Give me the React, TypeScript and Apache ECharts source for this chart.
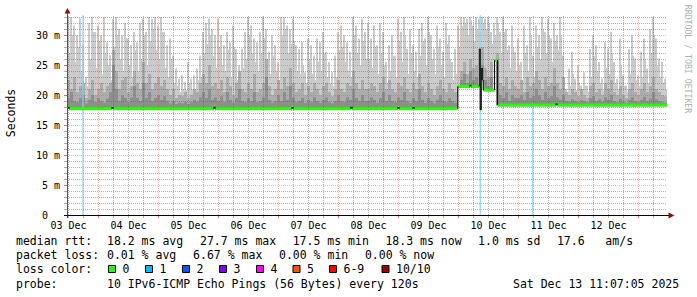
import React, { useEffect, useRef } from 'react';
import * as echarts from 'echarts';

// ---------- data ----------
const START_H = 11.4; // hours since 03 Dec 00:00 at left edge
const SPAN_H = 240; // 10 days
const BUCKET_H = 1.2; // smoke bucket width in hours
const Y_MAX = 100 / 3; // ms

const dayLabels = ['03 Dec', '04 Dec', '05 Dec', '06 Dec', '07 Dec', '08 Dec', '09 Dec', '10 Dec', '11 Dec', '12 Dec'];

// smoke: top of light-gray band (ms), one value per 1.2 h bucket
const smokeMax = [
  33, 33, 31.6, 30, 32.8, 28.3, 23, 32, 33, 30.5, 31.6, 30, 33, 28.8, 26.6, 32.7, 33, 31, 30, 32,
  29.4, 28.3, 30.5, 28.8, 32, 32.7, 30.5, 33, 32.7, 33, 31.6, 33, 30.5, 28.3, 29.4, 26.6, 24.4, 22.7, 23.3, 22.2,
  25.5, 22.7, 23.3, 24.4, 26.6, 30.5, 32, 32.7, 31, 30,
  32.7, 30, 28.3, 30.5, 28.8, 31.6, 27.7, 25, 27.7, 30.5, 33, 31.6, 29.4, 28.8, 30.5, 33, 31, 27.2, 30, 28.3,
  25.5, 33, 33, 31.6, 31, 32.7, 28.3, 27.7, 28.8, 23.8, 29.4, 28.3, 26.6, 29.4, 28.8, 30.5, 27.2, 25.5, 23.8, 26.6,
  30.5, 31.6, 30, 28.8, 27.2, 33, 31.6, 29.4, 32.7, 30.5,
  32, 29.4, 31.6, 28.3, 32, 30.5, 25.5, 28.3, 30, 26.6, 32.7, 30.5, 33, 27.7, 31, 28.3, 27.2, 31, 32, 29.4,
  33, 30, 27.7, 31.6, 29.4, 27.2, 32, 30, 25.5, 27.7, 31.6, 33, 33, 32.7, 33, 31.6, 33, 32.7, 33, 32.7,
  33, 30.5, 32, 33, 30.5, 33, 31, 28.3, 31.6, 27.2,
  29.4, 25.5, 31.6, 28.3, 33, 26.6, 31.6, 30, 33, 30.5, 32.7, 29.4, 32, 30, 33, 26.6, 21, 24.4, 27.2, 22.7,
  25, 21.6, 23.8, 21.6, 27.7, 30, 28.3, 25.5, 22.7, 28.8, 27.7, 30.5, 25.5, 22.7, 29.4, 23.3, 21.6, 27.7, 30, 26.1,
  23.3, 27.2, 29.4, 24.4, 31, 33, 29.4, 26.1, 25.5, 22.7,
];
// smoke: light-gray top of the narrow neighbouring spike in each bucket (ms)
const smokeAlt = [
  27, 30, 25.5, 28, 24, 22, 21.5, 26, 30.5, 24.5, 29, 23.5, 27, 25, 22.5, 28, 30, 26, 24, 29.5,
  25, 23, 27.5, 24, 26, 30, 25, 29, 31, 27.5, 26, 30.5, 24.5, 23, 26, 22, 21.5, 20.5, 21, 20.8,
  22, 21, 20.5, 22.5, 23, 27, 28.5, 30, 26.5, 24.5,
  28, 25, 24, 27.5, 23, 28, 22.5, 23, 24.5, 26, 30, 27, 25.5, 24, 27, 29.5, 26, 23.5, 26.5, 24,
  22.5, 30, 31, 27, 28.5, 29, 24, 23.5, 25, 22, 26, 23.5, 22.5, 25.5, 24, 27, 23, 22, 21.5, 23,
  27.5, 28, 25.5, 24, 23, 30, 27, 25, 29, 26,
  26, 24.5, 28, 23.5, 27, 25, 22, 24, 26.5, 23, 29, 25.5, 30, 23.5, 27, 24, 23, 26.5, 29, 25,
  30.5, 26, 23.5, 28, 25, 23, 28.5, 26, 22.5, 23.5, 28, 31.5, 32, 30, 32.5, 29, 31, 30.5, 32, 31,
  32, 28.5, 30, 32, 27, 30.5, 27.5, 24.5, 28, 24,
  25, 22.5, 27, 24, 30, 23, 28, 26, 31, 27, 30, 25.5, 29, 27.5, 30, 23, 20.5, 21.5, 23.5, 20.8,
  22, 20.6, 21.5, 20.5, 23, 26.5, 24, 22, 20.8, 24.5, 23.5, 27, 22, 21, 25, 21.5, 20.6, 23.5, 26.5, 22.5,
  21.5, 23, 26, 22, 27, 30, 25, 23, 22, 21,
];
// smoke: top of mid-gray band (ms)
const smokeMid = [
  22.5, 21, 23, 20.5, 21.5, 22, 19.5, 21, 22.5, 20, 21, 22, 20.5, 21.5, 22, 27.5, 24, 21, 22.5, 23,
  20.5, 21.5, 24, 22, 21, 25.5, 22, 23.5, 21, 22, 23, 21.5, 22.5, 21, 20, 21, 19.5, 20, 19.8, 20.5,
  19.5, 20, 21, 20.5, 22, 23.5, 22, 25, 21.5, 22,
  21, 22.5, 20.5, 23, 21.5, 20, 22, 24, 21, 20.5, 22, 21, 23.5, 20.5, 21, 22, 26, 21.5, 20, 21,
  22.5, 21, 23, 21.5, 24.5, 22, 20.5, 21, 22, 20, 21.5, 20.5, 22, 21, 20, 21.5, 22, 20.5, 19.8, 21,
  22.5, 21, 20.5, 22, 21.5, 24, 22, 21, 22.5, 21,
  21, 22, 21.5, 20.5, 22, 23, 21, 22.5, 21, 20.5, 22, 21.5, 23, 21, 20.5, 22, 21, 23.5, 21.5, 20.5,
  22, 21, 20, 21.5, 22.5, 21, 20.5, 22, 21, 20.5, 21.5, 24, 25.5, 23.5, 26, 24.5, 25, 23.5, 28, 24.5,
  23, 25.5, 24, 27, 22, 21.5, 23, 21, 22.5, 21.5,
  21, 22.5, 20.5, 23, 21.5, 22, 24, 22.5, 21, 23, 21.5, 22, 24.5, 22, 21, 23, 20.5, 20, 21, 20.5,
  19.8, 21, 20, 19.5, 21.5, 22, 20.5, 21, 20, 22, 21, 22.5, 20.5, 20, 21.5, 20, 19.5, 21, 22, 20.5,
  20, 21, 22, 20.5, 21.5, 23, 21, 20.5, 20, 19.8,
];
// smoke: top of dark-gray band (ms)
const smokeLow = [
  19.5, 20.5, 19, 18.8, 19.5, 20, 18.6, 19.2, 20, 18.8, 19.5, 19, 18.7, 19.4, 20.5, 25, 21, 19, 20, 19.5,
  18.8, 19.6, 21.5, 19.5, 19, 22, 19.5, 20.5, 19, 19.5, 20, 19.2, 19.8, 19, 18.6, 19, 18.5, 18.7, 18.6, 18.9,
  18.5, 18.8, 19.2, 18.9, 19.6, 20.5, 19.5, 21, 19.2, 19.6,
  19, 19.8, 18.8, 20.5, 19.2, 18.7, 19.5, 21, 19, 18.8, 19.5, 19, 20.5, 18.8, 19, 19.6, 23, 19.2, 18.7, 19,
  20, 19, 20.5, 19.2, 21.5, 19.6, 18.8, 19, 19.5, 18.7, 19.2, 18.8, 19.6, 19, 18.7, 19.2, 19.6, 18.8, 18.6, 19,
  20, 19, 18.8, 19.6, 19.2, 21, 19.5, 19, 20, 19,
  19, 19.6, 19.2, 18.7, 19.5, 20.5, 19, 20, 19, 18.8, 19.6, 19.2, 20.5, 19, 18.7, 19.5, 19, 21, 19.2, 18.7,
  19.5, 19, 18.6, 19.2, 20, 19, 18.8, 19.5, 19, 18.7, 19.2, 22.5, 23.5, 22, 24, 22.5, 23, 22, 25, 22.5,
  21.5, 23, 22, 26, 20, 19.5, 20.5, 19, 20, 19.5,
  19.5, 20, 19.2, 20.5, 19.5, 19.8, 21, 20, 19.2, 20.5, 19.5, 19.8, 21.5, 19.6, 19.2, 20, 19, 18.9, 19.3, 19,
  18.8, 19.2, 19, 18.8, 19.5, 19.8, 19, 19.3, 18.9, 19.6, 19.2, 20, 19, 18.8, 19.4, 18.9, 18.7, 19.2, 19.6, 19,
  18.8, 19.2, 19.7, 19, 19.4, 20.5, 19.3, 19, 18.8, 18.7,
];

// median rtt (step function): change times (hours) and values (ms)
const medianTimes = [
  11.4, 11.8, 12.2, 29.4, 29.8, 70.2, 70.6, 101.4, 101.8, 125.0, 125.4, 143.8, 144.2, 149.8, 150.2,
  167.7, 172.6, 173.0, 176.3, 176.7, 177.1, 177.5, 177.9, 182.4, 183.6, 207.0, 207.4, 251.4,
];
const medianValues = [
  17.7, 18.05, 17.7, 18.0, 17.7, 18.05, 17.7, 18.0, 17.7, 18.05, 17.7, 18.0, 17.7, 18.0, 17.7,
  21.4, 21.7, 21.4, 27.7, 17.5, 24.5, 22.5, 20.8, 25.8, 18.3, 18.6, 18.3, 18.3,
];

// packet-loss background markers: time (hours) and visible top (ms)
const lossTimes = [17.8, 176.7, 197.7];
const lossTops = [33.3, 33.3, 18.6];

// legend texts
const rttStats = ['median rtt:', '18.2 ms avg', '27.7 ms max', '17.5 ms min', '18.3 ms now', '1.0 ms sd', '17.6   am/s'];
const lossStats = ['packet loss:', '0.01 % avg', '6.67 % max', '0.00 % min', '0.00 % now'];
const lossLabels = ['0', '1', '2', '3', '4', '5', '6-9', '10/10'];
const lossColors = ['#26ff00', '#00b8ff', '#0059ff', '#7e00ff', '#ff00ff', '#ff5500', '#ff0000', '#a10000'];
const probeText = ['probe:', '10 IPv6-ICMP Echo Pings (56 Bytes) every 120s', 'Sat Dec 13 11:07:05 2025'];

// ---------- layout ----------
const MONO = '"DejaVu Sans Mono", monospace';
const FS = 11.5;
const rttX = [16, 107, 200, 292.7, 385.4, 478.1, 556.9];
const lossX = [16, 107, 193.1, 279, 364.9];
const boxX = [108, 145, 182, 219, 256, 292.5, 329, 381.5];
const probeX = [16, 107, 513];
const lineY = [240.6, 255, 269.4, 283.8];

function medianAt(t: number) {
  let v = medianValues[0];
  for (let k = 0; k < medianTimes.length; k++) {
    if (medianTimes[k] <= t) v = medianValues[k];
    else break;
  }
  return v;
}

const crisp = (v: number) => Math.round(v - 0.5) + 0.5;

export default function App() {
  const ref = useRef<HTMLDivElement>(null);

  useEffect(() => {
    document.body.style.margin = '0';
    if (!ref.current) return;
    const chart = echarts.init(ref.current, undefined, { renderer: 'svg' });

    const X_MIN = START_H;
    const X_MAX = START_H + SPAN_H;

    const vGrid: number[][] = [];
    for (let h = Math.ceil(X_MIN / 6) * 6; h < X_MAX; h += 6) vGrid.push([h, h % 24 === 0 ? 1 : 0]);
    const hGrid: number[][] = [];
    for (let v = 1; v < Y_MAX; v += 1) hGrid.push([v, v % 5 === 0 ? 1 : 0]);

    const MAJOR = 'rgba(230,80,80,0.42)';
    const MINOR = 'rgba(100,100,100,0.5)';

    const text = (t: string, x: number, y: number, extra: any = {}) => ({
      type: 'text',
      x,
      y,
      z: 20,
      silent: true,
      style: {
        text: t,
        fill: '#000',
        font: `${FS}px ${MONO}`,
        align: 'left',
        verticalAlign: 'middle',
        textAlign: 'left',
        textVerticalAlign: 'middle',
        ...extra,
      },
    });

    const graphics: any[] = [];
    rttStats.forEach((t, i) => graphics.push(text(t, rttX[i], lineY[0])));
    lossStats.forEach((t, i) => graphics.push(text(t, lossX[i], lineY[1])));
    graphics.push(text('loss color:', 16, lineY[2]));
    lossLabels.forEach((t, i) => {
      graphics.push({
        type: 'rect',
        z: 20,
        silent: true,
        shape: { x: boxX[i] + 0.5, y: 265.5, width: 7, height: 7 },
        style: { fill: lossColors[i], stroke: '#000', lineWidth: 1 },
      });
      graphics.push(text(t, boxX[i] + 14.5, lineY[2]));
    });
    probeText.forEach((t, i) => graphics.push(text(t, probeX[i], lineY[3])));
    // axis title
    graphics.push({
      type: 'text',
      x: 11,
      y: 113,
      rotation: Math.PI / 2,
      z: 20,
      silent: true,
      style: { text: 'Seconds', fill: '#000', font: `${FS}px ${MONO}`, align: 'center', verticalAlign: 'middle', textAlign: 'center', textVerticalAlign: 'middle' },
    });
    // watermark
    graphics.push({
      type: 'text',
      x: 688,
      y: 59,
      rotation: -Math.PI / 2,
      z: 20,
      silent: true,
      style: { text: 'RRDTOOL / TOBI OETIKER', fill: '#b0b0b0', font: `8.2px ${MONO}`, align: 'center', verticalAlign: 'middle', textAlign: 'center', textVerticalAlign: 'middle' },
    });
    // axes lines + arrows
    graphics.push({ type: 'line', z: 19, silent: true, shape: { x1: 67.5, y1: 218, x2: 67.5, y2: 13 }, style: { stroke: '#555', lineWidth: 1 } });
    graphics.push({ type: 'polygon', z: 19, silent: true, shape: { points: [[64.5, 13.5], [70.5, 13.5], [67.5, 8]] }, style: { fill: '#8b1010' } });
    graphics.push({ type: 'line', z: 19, silent: true, shape: { x1: 64, y1: 215.5, x2: 669, y2: 215.5 }, style: { stroke: '#000', lineWidth: 1 } });
    graphics.push({ type: 'polygon', z: 19, silent: true, shape: { points: [[668.5, 212.5], [668.5, 218.5], [674.5, 215.5]] }, style: { fill: '#8b1010' } });

    const option: any = {
      animation: false,
      backgroundColor: '#ffffff',
      grid: { left: 67, top: 15, width: 600, height: 200, containLabel: false, outerBoundsMode: 'none' },
      xAxis: {
        type: 'value',
        min: X_MIN,
        max: X_MAX,
        axisLine: { show: false },
        axisTick: { show: false },
        splitLine: { show: false },
        axisLabel: {
          customValues: dayLabels.map((_, i) => 12 + 24 * i),
          formatter: (v: number) => dayLabels[Math.round((v - 12) / 24)] ?? '',
          fontFamily: MONO,
          fontSize: 10,
          color: '#000',
          margin: 5,
        },
      },
      yAxis: {
        type: 'value',
        min: 0,
        max: Y_MAX,
        interval: 5,
        axisLine: { show: false },
        axisTick: { show: false },
        splitLine: { show: false },
        axisLabel: {
          showMaxLabel: false,
          formatter: (v: number) => (v === 0 ? '0\u00a0\u00a0' : Math.abs(v % 5) < 1e-6 ? `${v} m` : ''),
          fontFamily: MONO,
          fontSize: 10,
          color: '#000',
          margin: 7,
        },
      },
      series: [
        {
          type: 'custom',
          name: 'smoke',
          z: 2,
          silent: true,
          data: smokeMax.map((v, i) => [START_H + (i + 0.5) * BUCKET_H, v, smokeMid[i], smokeLow[i], smokeAlt[i]]),
          encode: { x: 0, y: 1 },
          renderItem: (_p: any, api: any) => {
            const tc = api.value(0);
            const base = medianAt(tc);
            const l = api.coord([tc - BUCKET_H / 2, base]);
            const r = api.coord([tc + BUCKET_H / 2, base]);
            const w = r[0] - l[0];
            const mk = (v: number, color: string, x0: number, ww: number) => {
              const top = api.coord([tc, Math.max(v, base)])[1];
              return { type: 'rect', shape: { x: x0, y: top, width: ww, height: l[1] - top }, style: { fill: color } };
            };
            return {
              type: 'group',
              children: [
                mk(api.value(1), '#cbcbcb', l[0], w * (2 / 3)),
                mk(api.value(4), '#cbcbcb', l[0] + w * (2 / 3), w / 3),
                mk(api.value(2), '#acacac', l[0], w),
                mk(api.value(3), '#8e8e8e', l[0], w),
              ],
            };
          },
        },
        {
          type: 'custom',
          name: 'vgrid',
          z: 3,
          silent: true,
          data: vGrid,
          encode: { x: 0 },
          renderItem: (_p: any, api: any) => {
            const h = api.value(0);
            const major = api.value(1) === 1;
            const a = api.coord([h, 0]);
            const b = api.coord([h, Y_MAX]);
            const x = crisp(a[0]);
            const c = major ? MAJOR : MINOR;
            return {
              type: 'group',
              children: [
                { type: 'line', shape: { x1: x, y1: a[1], x2: x, y2: b[1] }, style: { stroke: c, lineWidth: 1, lineDash: [1, 1] } },
                { type: 'line', shape: { x1: x, y1: a[1], x2: x, y2: a[1] + 3 }, style: { stroke: major ? '#e07070' : '#b0b0b0', lineWidth: 1 } },
              ],
            };
          },
        },
        {
          type: 'custom',
          name: 'hgrid',
          z: 3,
          silent: true,
          data: hGrid,
          encode: { y: 0 },
          renderItem: (_p: any, api: any) => {
            const v = api.value(0);
            const major = api.value(1) === 1;
            const a = api.coord([X_MIN, v]);
            const b = api.coord([X_MAX, v]);
            const y = crisp(a[1]);
            const c = major ? MAJOR : MINOR;
            return {
              type: 'group',
              children: [
                { type: 'line', shape: { x1: a[0], y1: y, x2: b[0], y2: y }, style: { stroke: c, lineWidth: 1, lineDash: [1, 1] } },
                { type: 'line', shape: { x1: a[0] - 3, y1: y, x2: a[0], y2: y }, style: { stroke: major ? '#e07070' : '#b0b0b0', lineWidth: 1 } },
              ],
            };
          },
        },
        {
          type: 'bar',
          name: 'loss',
          z: 4,
          silent: true,
          barWidth: 1.2,
          barGap: '-100%',
          itemStyle: { color: '#8cd6f6' },
          data: lossTimes.map((t, i) => [t, lossTops[i]]),
        },
        {
          type: 'custom',
          name: 'median',
          z: 5,
          silent: true,
          data: medianTimes.slice(0, -1).map((t, k) => [t, medianValues[k], medianTimes[k + 1]]),
          encode: { x: 0, y: 1 },
          renderItem: (_p: any, api: any) => {
            const a = api.coord([api.value(0), api.value(1)]);
            const b = api.coord([api.value(2), api.value(1)]);
            return { type: 'line', shape: { x1: a[0], y1: a[1], x2: b[0], y2: b[1] }, style: { stroke: '#26ff00', lineWidth: 3, lineCap: 'butt' } };
          },
        },
        {
          type: 'custom',
          name: 'median steps',
          z: 6,
          silent: true,
          data: medianTimes.slice(1, -1).map((t, k) => [t, medianValues[k], medianValues[k + 1]]),
          encode: { x: 0, y: 1 },
          renderItem: (_p: any, api: any) => {
            const a = api.coord([api.value(0), api.value(1)]);
            const b = api.coord([api.value(0), api.value(2)]);
            return { type: 'line', shape: { x1: a[0], y1: a[1], x2: b[0], y2: b[1] }, style: { stroke: '#111', lineWidth: 1.2, lineCap: 'butt' } };
          },
        },
      ],
      graphic: graphics,
    };

    chart.setOption(option);
    return () => chart.dispose();
  }, []);

  return <div ref={ref} style={{ width: 697, height: 297 }} />;
}
